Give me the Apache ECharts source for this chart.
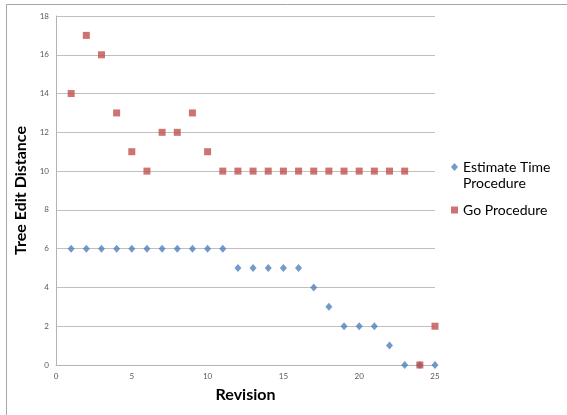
<!DOCTYPE html>
<html>
<head>
<meta charset="utf-8">
<script src="https://cdn.jsdelivr.net/npm/echarts@6/dist/echarts.min.js"></script>
<style>
  html, body { margin: 0; padding: 0; background: #fff; }
  #chart { width: 567px; height: 415px; }
</style>
</head>
<body>
<div id="chart"></div>
<script>
// revisions 1..25
const revisions = [1, 2, 3, 4, 5, 6, 7, 8, 9, 10, 11, 12, 13, 14, 15, 16, 17, 18, 19, 20, 21, 22, 23, 24, 25]
const estimateTime = [6, 6, 6, 6, 6, 6, 6, 6, 6, 6, 6, 5, 5, 5, 5, 5, 4, 3, 2, 2, 2, 1, 0, 0, 0]
const goProcedure = [14, 17, 16, 13, 11, 10, 12, 12, 13, 11, 10, 10, 10, 10, 10, 10, 10, 10, 10, 10, 10, 10, 10, 0, 2]

const font = 'Lato, "Open Sans", sans-serif'

const chart = echarts.init(document.getElementById('chart'))
chart.setOption({
  animation: false,
  color: ['#4f81bd', '#c0504d'],
  graphic: [
    {
      // outer chart frame (only top/left visible)
      type: 'polyline',
      silent: true,
      shape: { points: [[6.5, 420], [6.5, 4.5], [570, 4.5]] },
      style: { fill: null, stroke: '#a6a6a6', lineWidth: 1 }
    }
  ],
  grid: {
    left: 56,
    right: 132,
    top: 16,
    bottom: 50,
    containLabel: false
  },
  legend: [
    {
      data: ['Estimate Time Procedure'],
      orient: 'vertical',
      left: 446,
      top: 138,
      itemWidth: 7,
      itemHeight: 8,
      icon: 'diamond',
      // blank first line keeps the marker level with "Estimate Time"
      formatter: () => '\nEstimate Time\nProcedure',
      textStyle: { fontFamily: font, fontSize: 14, color: '#000', lineHeight: 16 }
    },
    {
      data: ['Go Procedure'],
      orient: 'vertical',
      left: 446,
      top: 197,
      itemWidth: 7,
      itemHeight: 7,
      icon: 'rect',
      textStyle: { fontFamily: font, fontSize: 14, color: '#000', lineHeight: 16 }
    }
  ],
  xAxis: {
    type: 'value',
    min: 0,
    max: 25,
    interval: 5,
    name: 'Revision',
    nameLocation: 'middle',
    nameGap: 22,
    nameTextStyle: { fontFamily: font, fontSize: 16, fontWeight: 'bold', color: '#000' },
    axisLine: { show: true, lineStyle: { color: '#b3b3b3' } },
    axisTick: { show: false },
    axisLabel: { fontFamily: font, fontSize: 8, color: '#595959', margin: 7 },
    splitLine: { show: false }
  },
  yAxis: {
    type: 'value',
    min: 0,
    max: 18,
    interval: 2,
    name: 'Tree Edit Distance',
    nameLocation: 'middle',
    nameGap: 19,
    nameTextStyle: { fontFamily: font, fontSize: 16, fontWeight: 'bold', color: '#000' },
    axisLine: { show: true, lineStyle: { color: '#b3b3b3' } },
    axisTick: { show: false },
    axisLabel: { fontFamily: font, fontSize: 8, color: '#595959', margin: 7 },
    splitLine: { lineStyle: { color: '#bfbfbf' } }
  },
  series: [
    {
      name: 'Estimate Time Procedure',
      type: 'scatter',
      symbol: 'diamond',
      symbolSize: [7, 8],
      data: revisions.map((r, i) => [r, estimateTime[i]])
    },
    {
      name: 'Go Procedure',
      type: 'scatter',
      symbol: 'rect',
      symbolSize: 7,
      data: revisions.map((r, i) => [r, goProcedure[i]])
    }
  ]
})
</script>
</body>
</html>
